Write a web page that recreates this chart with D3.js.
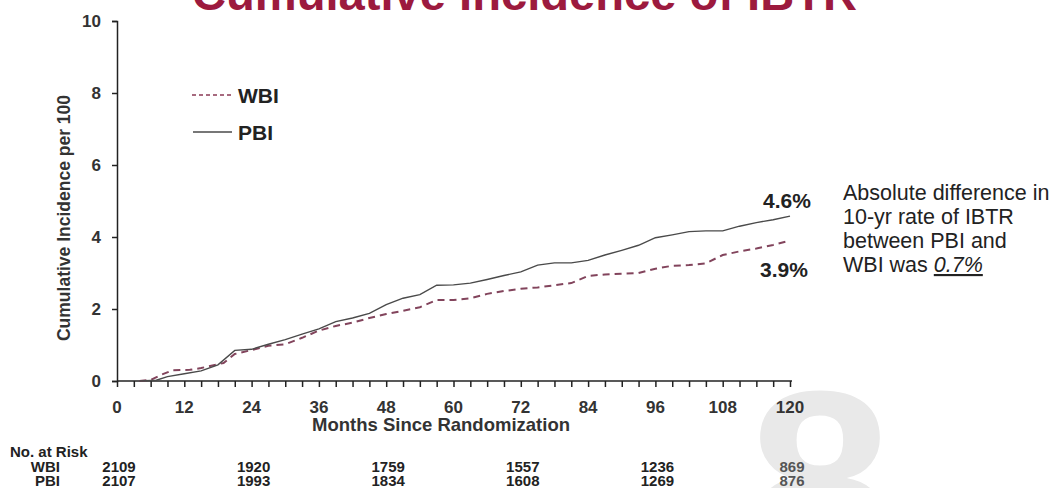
<!DOCTYPE html>
<html lang="en">
<head>
    <meta charset="UTF-8">
    <title>Cumulative Incidence of IBTR</title>
    <script src="https://d3js.org/d3.v7.min.js"></script>
    <style>
        body { margin: 0; background: #fff; }
        svg { display: block; font-family: Arial, "Liberation Sans", sans-serif; }
        .axis path, .axis line { stroke: #222; stroke-width: 1.5px; }
        .axis text { font-weight: bold; fill: #333; }
    </style>
</head>
<body>
    <svg width="1059" height="488"></svg>

    <script>
        // 数据
        const pbiMonths = [4, 7, 9, 12, 15, 18, 21, 24, 27, 30, 33, 36, 39, 42, 45, 48, 51, 54, 57, 60,
            63, 66, 69, 72, 75, 78, 81, 84, 87, 90, 93, 96, 99, 102, 105, 108, 111, 114, 117, 120];
        const pbiValues = [0, 0.02, 0.12, 0.2, 0.28, 0.45, 0.85, 0.88, 1.02, 1.15, 1.3, 1.45, 1.65, 1.75, 1.88, 2.12, 2.3, 2.4, 2.66, 2.67,
            2.72, 2.82, 2.93, 3.03, 3.22, 3.28, 3.28, 3.35, 3.5, 3.63, 3.77, 3.98, 4.06, 4.15, 4.17, 4.17, 4.3, 4.4, 4.48, 4.58];

        const wbiMonths = [4, 6, 8, 10, 13, 15, 17, 19, 21, 24, 27, 30, 33, 36, 39, 42, 45, 48, 51, 54, 57, 60,
            63, 66, 69, 72, 75, 78, 81, 84, 87, 90, 93, 96, 99, 102, 105, 108, 111, 114, 117, 120];
        const wbiValues = [0, 0.03, 0.18, 0.3, 0.31, 0.36, 0.43, 0.5, 0.75, 0.86, 0.98, 1.02, 1.2, 1.4, 1.53, 1.62, 1.75, 1.86, 1.95, 2.05, 2.25, 2.25,
            2.3, 2.42, 2.5, 2.56, 2.6, 2.66, 2.72, 2.92, 2.96, 2.98, 3.0, 3.12, 3.2, 3.22, 3.27, 3.5, 3.6, 3.68, 3.78, 3.9];

        const xTickLabels = [0, 12, 24, 36, 48, 60, 72, 84, 96, 108, 120];
        const yTickLabels = [0, 2, 4, 6, 8, 10];

        const riskMonths = [0, 24, 48, 72, 96, 120];
        const riskWBI = [2109, 1920, 1759, 1557, 1236, 869];
        const riskPBI = [2107, 1993, 1834, 1608, 1269, 876];

        const svg = d3.select('svg');

        // 水印
        svg.append("text")
            .attr("x", 820).attr("y", 572)
            .attr("text-anchor", "middle")
            .attr("font-size", 260).attr("font-weight", "bold")
            .attr("fill", "#e9e9e9")
            .text("8");

        const x = d3.scaleLinear().domain([0, 120]).range([117, 790]);
        const y = d3.scaleLinear().domain([0, 10]).range([381, 21]);

        // 标题
        svg.append("text")
            .attr("x", 192).attr("y", 10)
            .attr("font-size", 47).attr("font-weight", "bold")
            .attr("fill", "#9c1a3e")
            .attr("textLength", 665).attr("lengthAdjust", "spacingAndGlyphs")
            .text("Cumulative Incidence of IBTR");

        // x 轴
        const xAxis = svg.append("g")
            .attr("class", "axis")
            .attr("transform", `translate(0,${y(0)})`)
            .call(d3.axisBottom(x).tickValues(d3.range(0, 121, 3)).tickSize(6).tickFormat(""));
        xAxis.select(".domain").attr("d", `M${x(0)},0H${x(120) + 2}`);

        svg.append("g").selectAll("text")
            .data(xTickLabels)
            .join("text")
            .attr("x", d => x(d))
            .attr("y", 413)
            .attr("text-anchor", "middle")
            .attr("font-size", 17).attr("font-weight", "bold").attr("fill", "#333")
            .text(d => d);

        svg.append("text")
            .attr("x", 441).attr("y", 431)
            .attr("text-anchor", "middle")
            .attr("font-size", 18.5).attr("font-weight", "bold").attr("fill", "#333")
            .text("Months Since Randomization");

        // y 轴
        const yAxis = svg.append("g")
            .attr("class", "axis")
            .attr("transform", `translate(${x(0)},0)`)
            .call(d3.axisLeft(y).tickValues(yTickLabels).tickSize(5).tickPadding(11));
        yAxis.selectAll("text")
            .attr("font-size", 17).attr("font-family", "Arial, 'Liberation Sans', sans-serif");

        svg.append("text")
            .attr("transform", "translate(70,218) rotate(-90)")
            .attr("text-anchor", "middle")
            .attr("font-size", 17.5).attr("font-weight", "bold").attr("fill", "#333")
            .text("Cumulative Incidence per 100");

        // 曲线
        const line = d3.line().x(d => x(d[0])).y(d => y(d[1]));

        svg.append("path")
            .datum(d3.zip(wbiMonths, wbiValues))
            .attr("fill", "none")
            .attr("stroke", "#82445c")
            .attr("stroke-width", 2)
            .attr("stroke-dasharray", "7,5")
            .attr("d", line);

        svg.append("path")
            .datum(d3.zip(pbiMonths, pbiValues))
            .attr("fill", "none")
            .attr("stroke", "#4a4a4a")
            .attr("stroke-width", 1.4)
            .attr("d", line);

        // 图例
        const legend = svg.append("g");
        legend.append("line")
            .attr("x1", 192).attr("x2", 232).attr("y1", 95).attr("y2", 95)
            .attr("stroke", "#8a3a55").attr("stroke-width", 1.5).attr("stroke-dasharray", "4,3");
        legend.append("line")
            .attr("x1", 193).attr("x2", 232).attr("y1", 132).attr("y2", 132)
            .attr("stroke", "#4a4a4a").attr("stroke-width", 1.4);
        legend.selectAll("text")
            .data([["WBI", 103], ["PBI", 140]])
            .join("text")
            .attr("x", 238).attr("y", d => d[1])
            .attr("font-size", 21).attr("font-weight", "bold").attr("fill", "#222")
            .text(d => d[0]);

        // 终点标注
        svg.append("text")
            .attr("x", 763).attr("y", 208)
            .attr("font-size", 21).attr("font-weight", "bold").attr("fill", "#222")
            .text(pbiValues[pbiValues.length - 1].toFixed(1) + "%");
        svg.append("text")
            .attr("x", 760).attr("y", 277)
            .attr("font-size", 21).attr("font-weight", "bold").attr("fill", "#222")
            .text(wbiValues[wbiValues.length - 1].toFixed(1) + "%");

        const note = svg.append("text")
            .attr("font-size", 21.5).attr("fill", "#222");
        ["Absolute difference in", "10-yr rate of IBTR", "between PBI and"].forEach((t, i) => {
            note.append("tspan").attr("x", 843).attr("y", 200 + i * 24).text(t);
        });
        note.append("tspan").attr("x", 843).attr("y", 272).text("WBI was ");
        note.append("tspan")
            .attr("font-style", "italic")
            .attr("text-decoration", "underline")
            .text("0.7%");

        // 风险人数表
        const table = svg.append("g")
            .attr("font-size", 15).attr("font-weight", "bold").attr("fill", "#222");
        table.append("text").attr("x", 10).attr("y", 457).text("No. at Risk");
        [["WBI", riskWBI, 472], ["PBI", riskPBI, 486]].forEach(([name, vals, yy]) => {
            table.append("text").attr("x", 60).attr("y", yy)
                .attr("text-anchor", "end").text(name);
            table.selectAll(null)
                .data(vals)
                .join("text")
                .attr("x", (d, i) => x(riskMonths[i]) + 2)
                .attr("y", yy)
                .attr("text-anchor", "middle")
                .attr("fill", (d, i) => i === vals.length - 1 ? "#555" : "#222")
                .text(d => d);
        });
    </script>
</body>
</html>
